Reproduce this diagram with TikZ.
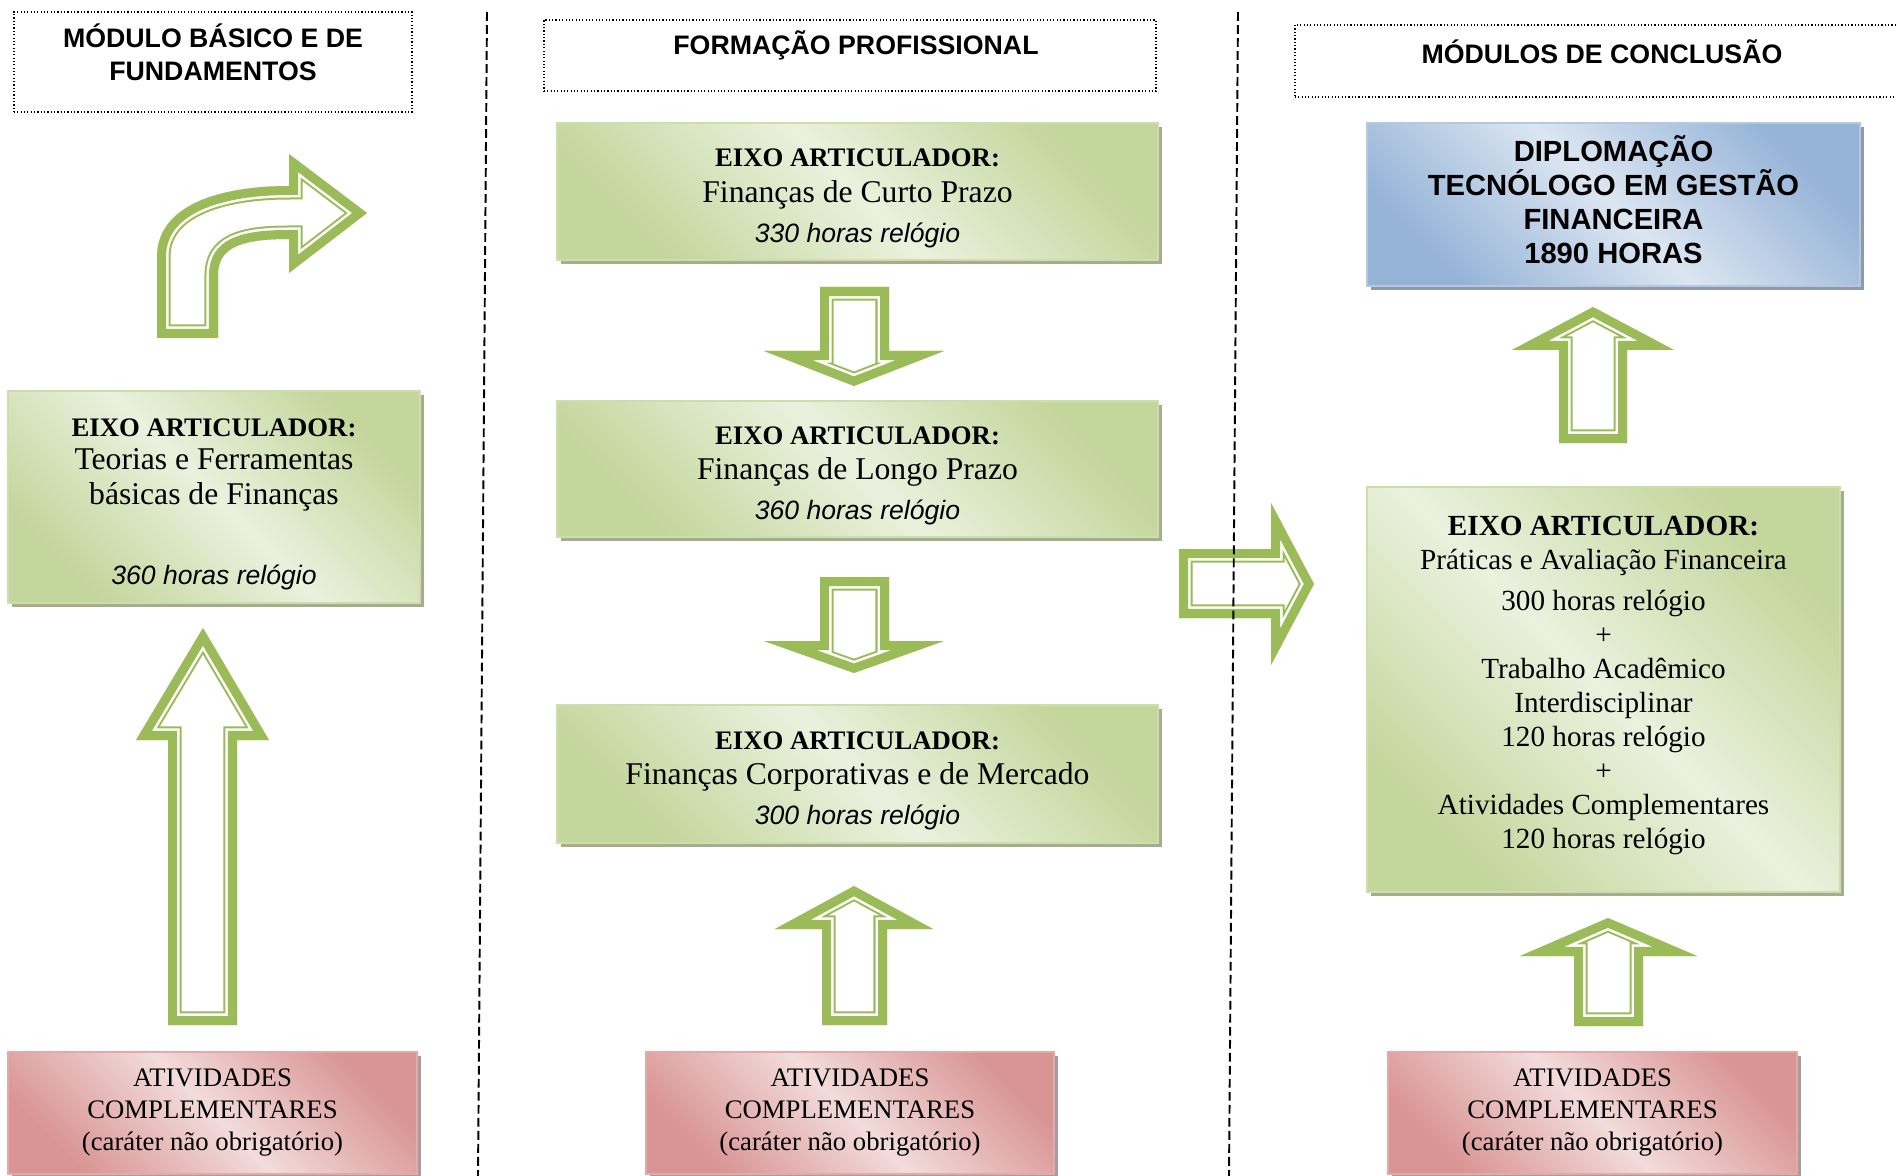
\documentclass[tikz,border=0pt]{standalone}
\usepackage{fontspec}
\setmainfont{Liberation Serif}
\setsansfont{Liberation Sans}
\usetikzlibrary{shadows}

\definecolor{greendark}{HTML}{C3D69B}
\definecolor{greenlight}{HTML}{EBF1DE}
\definecolor{greenborder}{HTML}{CDDDAC}
\definecolor{greenshadow}{HTML}{A5AD8E}
\definecolor{bluedark}{HTML}{95B3D7}
\definecolor{bluelight}{HTML}{DCE6F2}
\definecolor{blueborder}{HTML}{B4C8E2}
\definecolor{blueshadow}{HTML}{8E9AAB}
\definecolor{pinkdark}{HTML}{D99594}
\definecolor{pinklight}{HTML}{F2DCDB}
\definecolor{pinkborder}{HTML}{E3AAA9}
\definecolor{pinkshadow}{HTML}{A89C9C}
\definecolor{arrowgreen}{HTML}{9BBB59}

% hollow block arrow: thick outer band, white gap, thin inner line
\newcommand{\hollowarrow}[1]{%
  \begin{scope}
    \clip #1;
    \fill[white] #1;
    \draw[arrowgreen,line width=0.27cm,miter limit=20] #1;
    \draw[white,line width=0.23cm,miter limit=20] #1;
    \draw[arrowgreen,line width=0.18cm,miter limit=20] #1;
  \end{scope}}

\begin{document}
\begin{tikzpicture}[x=0.01cm,y=-0.01cm]
  %----- styles
  \tikzset{
    titlebox/.style ={draw,line width=0.45pt,dash pattern=on 0.35pt off 0.6pt,inner sep=0pt},
    titletext/.style={font=\sffamily\bfseries\fontsize{7.6}{9.4}\selectfont,align=center,inner sep=0pt},
    greenbox/.style ={draw=greenborder,line width=0.6pt,top color=greendark,bottom color=greendark,
                      middle color=greenlight,shading angle=-45,align=center,inner sep=0pt,
                      general shadow={fill=greenshadow,shadow xshift=0.04cm,shadow yshift=-0.04cm},
                      font=\fontsize{9}{10}\selectfont},
    bluebox/.style  ={draw=blueborder,line width=0.6pt,top color=bluedark,bottom color=bluedark,
                      middle color=bluelight,shading angle=-45,align=center,inner sep=0pt,
                      general shadow={fill=blueshadow,shadow xshift=0.04cm,shadow yshift=-0.04cm},
                      font=\sffamily\bfseries\fontsize{8.3}{9.7}\selectfont},
    pinkbox/.style  ={draw=pinkborder,line width=0.6pt,top color=pinkdark,bottom color=pinkdark,
                      middle color=pinklight,shading angle=-45,align=center,inner sep=0pt,
                      general shadow={fill=pinkshadow,shadow xshift=0.04cm,shadow yshift=-0.04cm},
                      minimum height=1.22cm,font=\fontsize{7.6}{9.1}\selectfont},
    sepline/.style  ={line width=0.55pt,dash pattern=on 2.5pt off 1.2pt}
  }

  \useasboundingbox (0,0) rectangle (1896,1176);
  \clip (0,0) rectangle (1896,1176);

  %----- column titles
  \node[titlebox,minimum width=3.98cm,minimum height=1.00cm] (headA) at (213,62) {};
  \node[titletext] (headAtxt) at (213,52.5) {MÓDULO BÁSICO E DE\\FUNDAMENTOS};
  \node[titlebox,minimum width=6.12cm,minimum height=0.71cm] (headB) at (850,55.5) {};
  \node[titletext] (headBtxt) at (856,45) {FORMAÇÃO PROFISSIONAL};
  \node[titlebox,minimum width=6.05cm,minimum height=0.72cm] (headC) at (1597.5,61) {};
  \node[titletext] (headCtxt) at (1602,52) {MÓDULOS DE CONCLUSÃO};

  %----- axis boxes
  \node[greenbox,minimum width=4.12cm,minimum height=2.12cm] (basic) at (214,497)
    {\rule{0pt}{9pt}{\bfseries\fontsize{7.6}{9}\selectfont EIXO ARTICULADOR:}\\[-0.6pt]
     Teorias e Ferramentas\\[0.2pt]básicas de Finanças\\[12.5pt]
     {\sffamily\itshape\fontsize{7.55}{9}\selectfont 360 horas relógio}};
  \node[greenbox,minimum width=6.01cm,minimum height=1.37cm] (curto) at (857.5,191.5)
    {\rule{0pt}{9pt}{\bfseries\fontsize{7.6}{9}\selectfont EIXO ARTICULADOR:}\\
     Finanças de Curto Prazo\\[1.4pt]
     {\sffamily\itshape\fontsize{7.55}{9}\selectfont 330 horas relógio}};
  \node[greenbox,minimum width=6.01cm,minimum height=1.36cm] (longo) at (857.5,469)
    {\rule{0pt}{9pt}{\bfseries\fontsize{7.6}{9}\selectfont EIXO ARTICULADOR:}\\
     Finanças de Longo Prazo\\[1.4pt]
     {\sffamily\itshape\fontsize{7.55}{9}\selectfont 360 horas relógio}};
  \node[greenbox,minimum width=6.01cm,minimum height=1.38cm] (corp) at (857.5,774)
    {\rule{0pt}{9pt}{\bfseries\fontsize{7.6}{9}\selectfont EIXO ARTICULADOR:}\\
     Finanças Corporativas e de Mercado\\[1.4pt]
     {\sffamily\itshape\fontsize{7.55}{9}\selectfont 300 horas relógio}};
  \node[greenbox,minimum width=4.73cm,minimum height=4.05cm,font=\fontsize{8.3}{9.65}\selectfont]
    (pratica) at (1603.5,689.5)
    {{\bfseries EIXO ARTICULADOR:}\\Práticas e Avaliação Financeira\\[2pt]
     300 horas relógio\\+\\Trabalho Acadêmico\\Interdisciplinar\\120 horas relógio\\+\\
     Atividades Complementares\\120 horas relógio\rule[-4.1pt]{0pt}{4.1pt}};

  % diploma box
  \node[bluebox,minimum width=4.93cm,minimum height=1.63cm] (diploma) at (1613.5,204.5)
    {DIPLOMAÇÃO\\TECNÓLOGO EM GESTÃO\\FINANCEIRA\\1890 HORAS\rule[-2.8pt]{0pt}{2.8pt}};

  % complementary activities
  \node[pinkbox,minimum width=4.09cm] (compA) at (212.5,1113)
    {ATIVIDADES\\COMPLEMENTARES\\(caráter não obrigatório)};
  \node[pinkbox,minimum width=4.08cm] (compB) at (850,1113)
    {ATIVIDADES\\COMPLEMENTARES\\(caráter não obrigatório)};
  \node[pinkbox,minimum width=4.09cm] (compC) at (1592.5,1113)
    {ATIVIDADES\\COMPLEMENTARES\\(caráter não obrigatório)};

  %----- block arrows
  % curved arrow, first column
  \hollowarrow{(157,338) -- (157,257) .. controls (157,205) and (220,186) .. (289,186)
    -- (289,154) -- (367,213) -- (289,273) -- (289,239)
    .. controls (240,239) and (218,248) .. (218,275) -- (218,338) -- cycle}
  % long up arrow, first column
  \hollowarrow{(168,1025) -- (168,740) -- (136,740) -- (203,628) -- (269,740) -- (237,740) -- (237,1025) -- cycle}
  % down arrows, second column
  \hollowarrow{(820,287) -- (820,351) -- (764,351) -- (854,386) -- (944,351) -- (889,351) -- (889,287) -- cycle}
  \hollowarrow{(820,577) -- (820,641) -- (764,641) -- (854,673) -- (944,641) -- (889,641) -- (889,577) -- cycle}
  % up arrow, second column
  \hollowarrow{(822,1025) -- (822,929) -- (775,929) -- (854,886) -- (933,929) -- (887,929) -- (887,1025) -- cycle}
  % arrow to third column
  \hollowarrow{(1179,549) -- (1271,549) -- (1271,503) -- (1314,584) -- (1271,665) -- (1271,618) -- (1179,618) -- cycle}
  % up arrows, third column
  \hollowarrow{(1559,443) -- (1559,350) -- (1512,350) -- (1593,307) -- (1674,350) -- (1627,350) -- (1627,443) -- cycle}
  \hollowarrow{(1574,1026) -- (1574,956) -- (1520,956) -- (1608,918) -- (1697,956) -- (1643,956) -- (1643,1026) -- cycle}

  %----- column separators
  \draw[sepline] (487,12) -- (478,1176);
  \draw[sepline] (1238,12) -- (1229,1176);
\end{tikzpicture}
\end{document}
